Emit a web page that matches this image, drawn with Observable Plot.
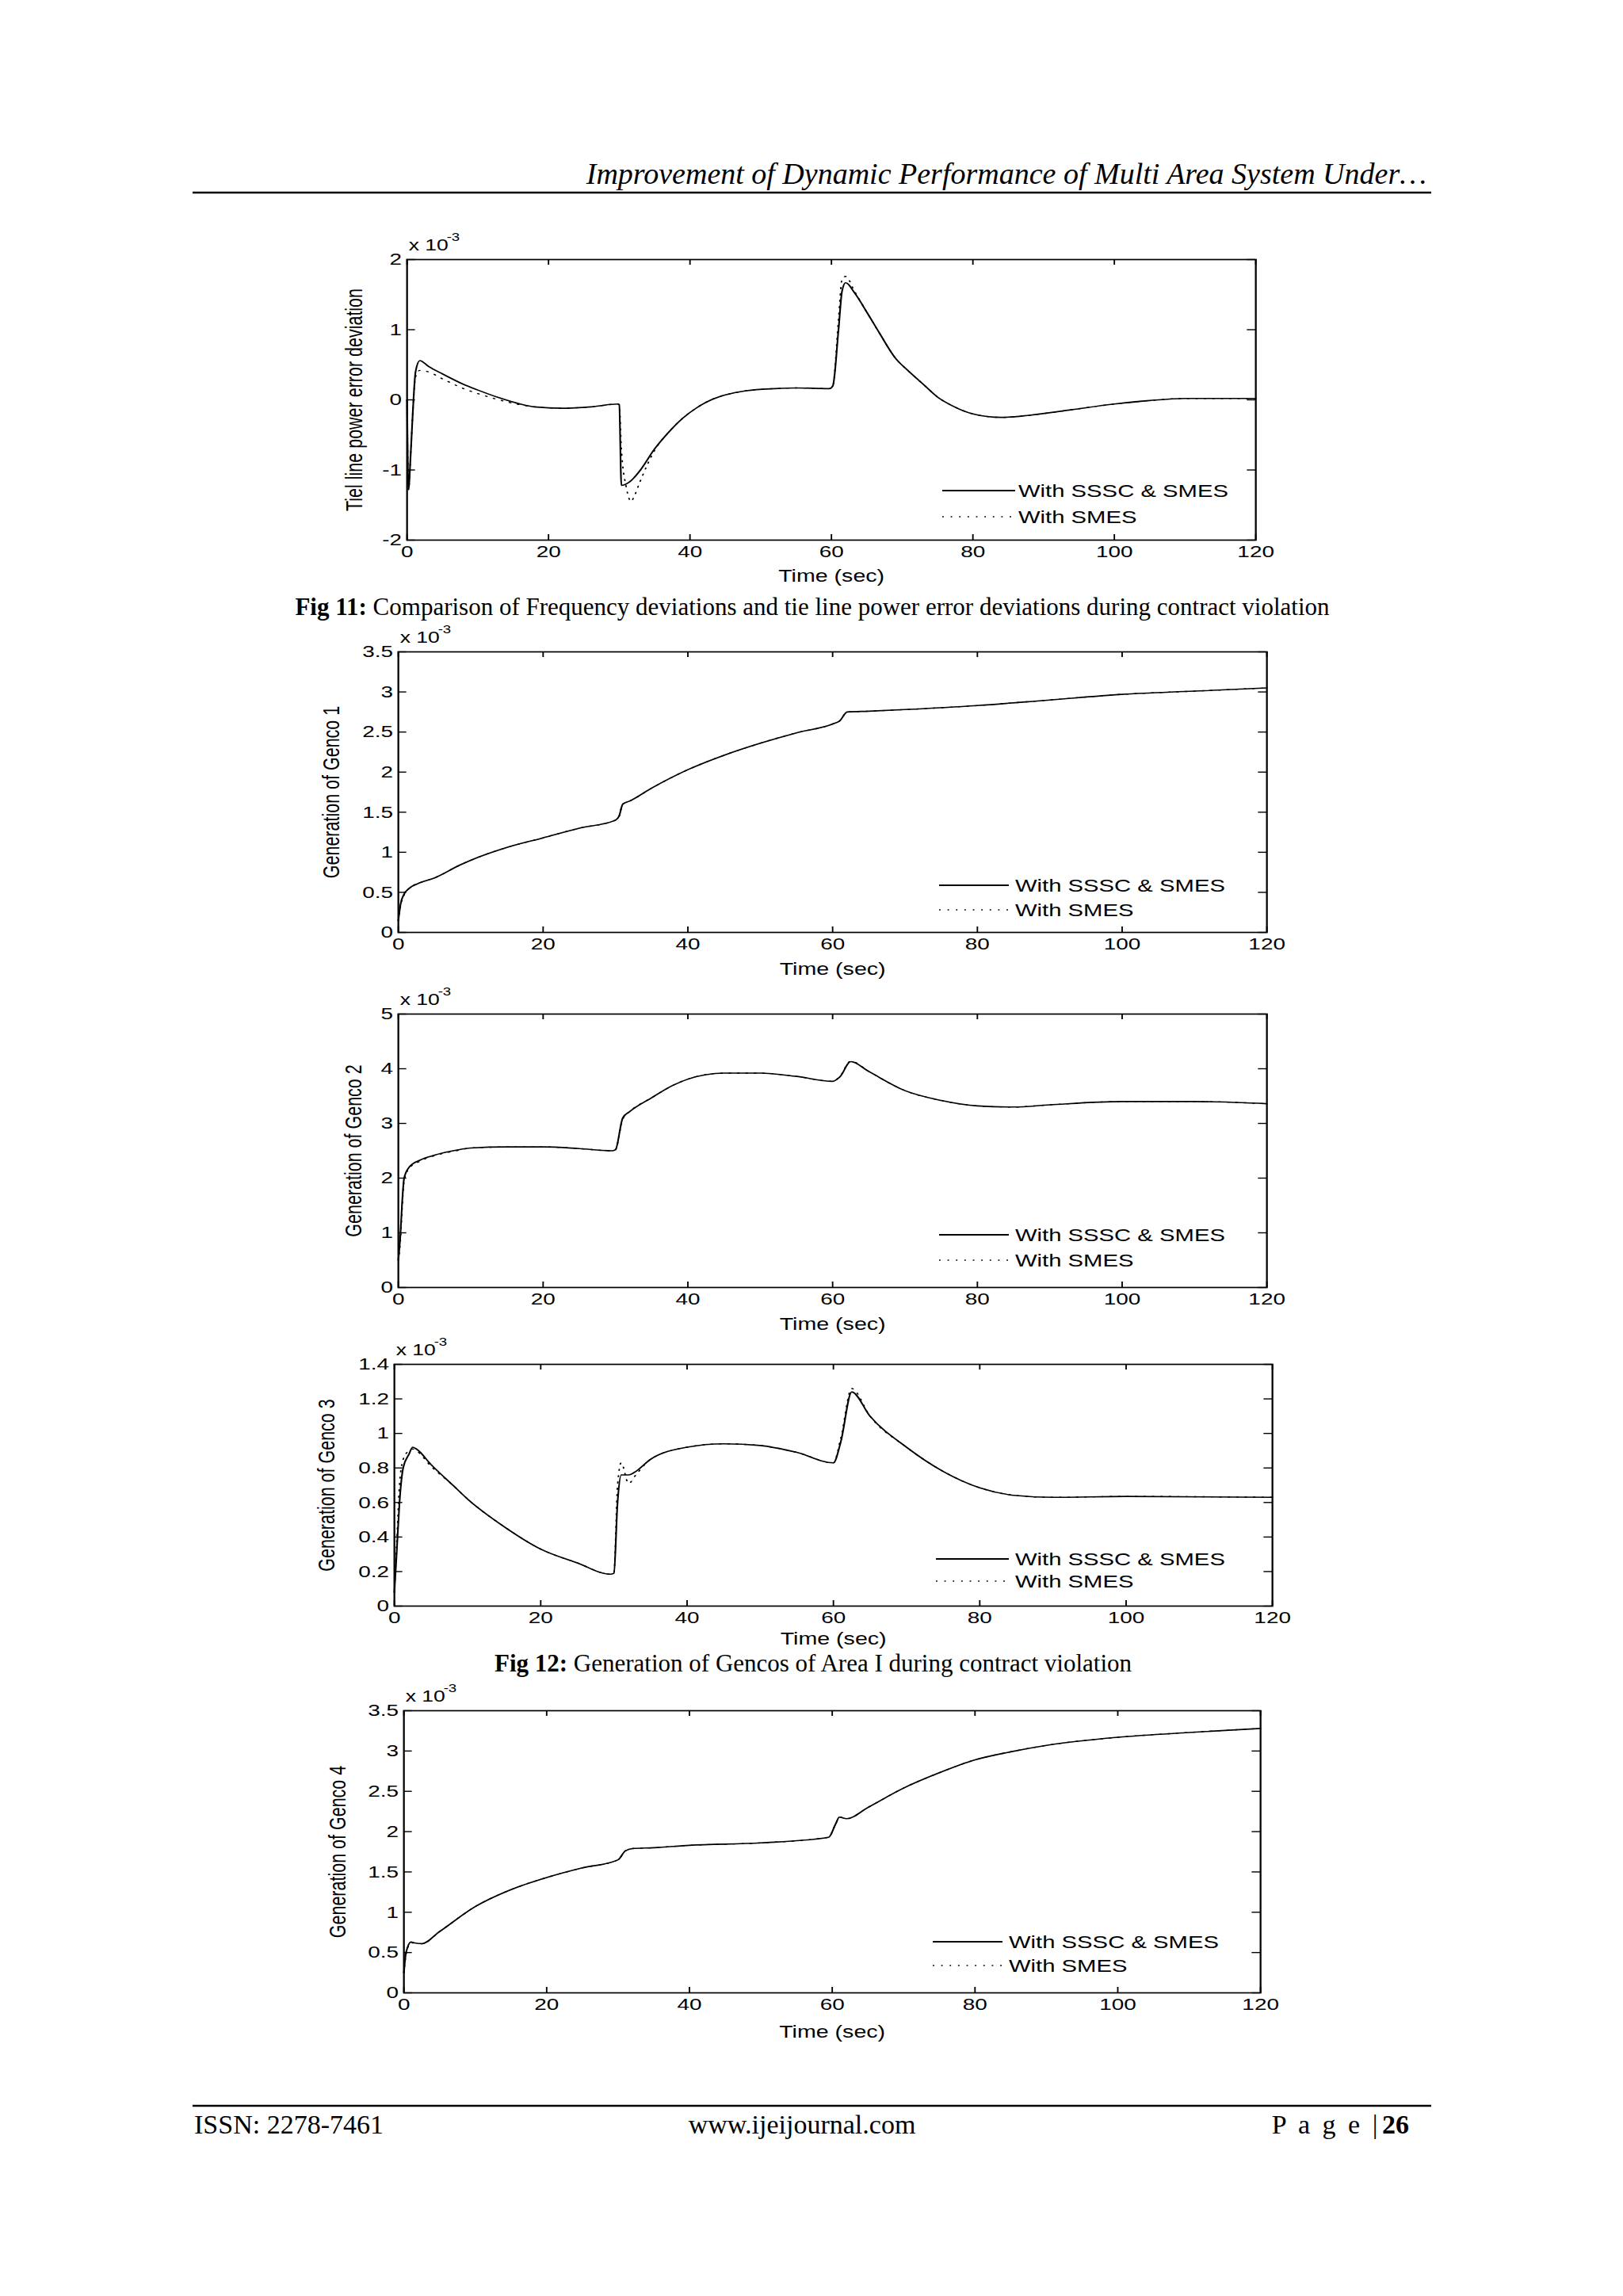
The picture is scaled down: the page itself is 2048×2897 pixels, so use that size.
<!DOCTYPE html>
<html><head><meta charset="utf-8">
<script src="https://cdn.jsdelivr.net/npm/d3@7"></script>
<script src="https://cdn.jsdelivr.net/npm/@observablehq/plot@0.6"></script>
<style>
html,body{margin:0;padding:0;background:#fff;}
#page{position:relative;width:2048px;height:2897px;background:#fff;overflow:hidden;}
.panel{position:absolute;}
#pagetext{position:absolute;left:0;top:0;}
</style></head>
<body><div id="page"></div>
<script>
// ---------------- data ----------------
const xTicks = [0, 20, 40, 60, 80, 100, 120];
const xTickLabels = ["0", "20", "40", "60", "80", "100", "120"];
const xLabel = "Time (sec)";
const expBase = "x 10";
const expPower = "-3";
const seriesNames = ["With SSSC & SMES", "With SMES"];

// Fig 11: tie line power error deviation (x 10^-3)
const tieTime = [0, 0.2, 0.5, 0.8, 1.2, 1.8, 3, 5, 8, 10, 13, 16, 18, 22, 26, 29.8, 30, 30.3, 31, 31.7, 32, 33, 35, 37, 39, 41, 43, 45, 48, 52, 55, 59.7, 60.2, 61, 61.5, 62, 63.3, 65, 66.8, 69, 71, 73, 75, 77, 80, 84, 88, 94, 100, 105, 110, 120];
const tieSSSC = [0, -1.28, -0.8, -0.2, 0.4, 0.56, 0.48, 0.37, 0.22, 0.14, 0.03, -0.06, -0.1, -0.12, -0.1, -0.06, -0.07, -1.22, -1.2, -1.15, -1.12, -1.0, -0.7, -0.46, -0.26, -0.11, 0.0, 0.07, 0.13, 0.16, 0.17, 0.16, 0.2, 1.0, 1.55, 1.67, 1.52, 1.25, 0.95, 0.6, 0.4, 0.22, 0.04, -0.08, -0.2, -0.25, -0.22, -0.14, -0.06, -0.01, 0.02, 0.02];
const tieSMES = [0, -1.28, -0.8, -0.2, 0.33, 0.42, 0.4, 0.3, 0.16, 0.09, 0.0, -0.07, -0.1, -0.12, -0.1, -0.06, -0.07, -0.7, -1.25, -1.45, -1.4, -1.15, -0.72, -0.46, -0.26, -0.11, 0.0, 0.07, 0.13, 0.16, 0.17, 0.16, 0.2, 1.15, 1.72, 1.76, 1.54, 1.25, 0.95, 0.6, 0.4, 0.22, 0.04, -0.08, -0.2, -0.25, -0.22, -0.14, -0.06, -0.01, 0.02, 0.02];
const tieYTicks = [-2, -1, 0, 1, 2];
const tieYTickLabels = ["-2", "-1", "0", "1", "2"];
const tieYLabel = "Tiel line power error deviation";

// Fig 12: Genco 1
const g1Time = [0, 0.3, 0.8, 1.5, 3, 5, 8.5, 10, 15, 20, 25, 30, 30.5, 31, 32, 35, 40, 45, 50, 55, 60, 61, 62, 65, 70, 80, 90, 100, 110, 120];
const g1SSSC = [0.15, 0.35, 0.48, 0.55, 0.62, 0.68, 0.84, 0.9, 1.06, 1.18, 1.3, 1.4, 1.45, 1.6, 1.64, 1.8, 2.03, 2.21, 2.36, 2.49, 2.6, 2.64, 2.75, 2.76, 2.78, 2.83, 2.9, 2.97, 3.01, 3.05];
const g1SMES = [0.15, 0.33, 0.47, 0.55, 0.62, 0.68, 0.84, 0.9, 1.06, 1.18, 1.3, 1.4, 1.45, 1.6, 1.64, 1.8, 2.03, 2.21, 2.36, 2.49, 2.6, 2.64, 2.75, 2.76, 2.78, 2.83, 2.9, 2.97, 3.01, 3.05];
const g1YTicks = [0, 0.5, 1, 1.5, 2, 2.5, 3, 3.5];
const g1YTickLabels = ["0", "0.5", "1", "1.5", "2", "2.5", "3", "3.5"];
const g1YLabel = "Generation of Genco 1";

// Genco 2
const g2Time = [0, 0.3, 0.5, 0.8, 1.5, 3, 5, 8, 10, 15, 20, 25, 29.5, 30, 31, 32, 35, 38, 40, 45, 50, 55, 60, 61, 62.5, 65, 70, 75, 80, 85, 90, 100, 110, 120];
const g2SSSC = [0.5, 1.0, 1.5, 2.0, 2.2, 2.33, 2.42, 2.51, 2.55, 2.57, 2.57, 2.54, 2.5, 2.52, 3.1, 3.22, 3.47, 3.7, 3.81, 3.92, 3.92, 3.86, 3.77, 3.85, 4.13, 3.95, 3.6, 3.42, 3.32, 3.3, 3.34, 3.4, 3.4, 3.36];
const g2SMES = [0.5, 0.9, 1.4, 1.95, 2.18, 2.31, 2.41, 2.5, 2.55, 2.57, 2.57, 2.54, 2.5, 2.52, 3.08, 3.22, 3.47, 3.7, 3.81, 3.92, 3.92, 3.86, 3.77, 3.86, 4.14, 3.95, 3.6, 3.42, 3.32, 3.3, 3.34, 3.4, 3.4, 3.36];
const g2YTicks = [0, 1, 2, 3, 4, 5];
const g2YTickLabels = ["0", "1", "2", "3", "4", "5"];
const g2YLabel = "Generation of Genco 2";

// Genco 3
const g3Time = [0, 0.3, 0.7, 1.2, 2, 2.5, 3, 5, 8, 10, 15, 20, 25, 29.5, 30, 30.5, 31, 32, 33, 35, 40, 45, 50, 55, 60, 61, 62.5, 65, 70, 75, 80, 85, 90, 100, 120];
const g3SSSC = [0.08, 0.3, 0.6, 0.8, 0.88, 0.92, 0.91, 0.82, 0.7, 0.62, 0.46, 0.33, 0.25, 0.185, 0.19, 0.6, 0.76, 0.76, 0.78, 0.85, 0.92, 0.94, 0.93, 0.89, 0.83, 0.95, 1.24, 1.1, 0.92, 0.78, 0.685, 0.64, 0.63, 0.635, 0.63];
const g3SMES = [0.08, 0.35, 0.7, 0.85, 0.9, 0.91, 0.9, 0.81, 0.7, 0.62, 0.46, 0.33, 0.25, 0.185, 0.19, 0.7, 0.83, 0.71, 0.76, 0.85, 0.92, 0.94, 0.93, 0.89, 0.83, 0.97, 1.26, 1.1, 0.92, 0.78, 0.685, 0.64, 0.63, 0.635, 0.63];
const g3YTicks = [0, 0.2, 0.4, 0.6, 0.8, 1, 1.2, 1.4];
const g3YTickLabels = ["0", "0.2", "0.4", "0.6", "0.8", "1", "1.2", "1.4"];
const g3YLabel = "Generation of Genco 3";

// Genco 4
const g4Time = [0, 0.3, 1, 1.5, 2.5, 5, 10, 15, 20, 25, 30, 31, 32, 35, 40, 50, 59.5, 60.5, 61, 62, 65, 70, 75, 80, 85, 90, 100, 110, 120];
const g4SSSC = [0.25, 0.5, 0.63, 0.62, 0.61, 0.76, 1.07, 1.28, 1.43, 1.55, 1.65, 1.76, 1.79, 1.8, 1.83, 1.86, 1.93, 2.1, 2.18, 2.16, 2.3, 2.54, 2.73, 2.89, 2.99, 3.07, 3.17, 3.23, 3.28];
const g4SMES = [0.25, 0.48, 0.62, 0.62, 0.61, 0.76, 1.07, 1.28, 1.43, 1.55, 1.65, 1.76, 1.79, 1.8, 1.83, 1.86, 1.93, 2.1, 2.18, 2.16, 2.3, 2.54, 2.73, 2.89, 2.99, 3.07, 3.17, 3.23, 3.28];
const g4YTicks = [0, 0.5, 1, 1.5, 2, 2.5, 3, 3.5];
const g4YTickLabels = ["0", "0.5", "1", "1.5", "2", "2.5", "3", "3.5"];
const g4YLabel = "Generation of Genco 4";

// page texts
const headerText = "Improvement of Dynamic Performance of Multi Area System Under…";
const fig11Bold = "Fig 11:";
const fig11Text = " Comparison of Frequency deviations and tie line power error deviations during contract violation";
const fig12Bold = "Fig 12:";
const fig12Text = " Generation of Gencos of Area I during contract violation";
const footerLeft = "ISSN: 2278-7461";
const footerMid = "www.ijeijournal.com";
const footerPage = "P a g e |";
const footerNum = "26";

// ---------------- layout ----------------
const S = 1.33; // horizontal stretch of the original figures
const M = {left: 100, right: 15, top: 45, bottom: 70};
const SANS = "'Liberation Sans', Arial, Helvetica, sans-serif";
const SERIF = "'Liberation Serif', 'Times New Roman', serif";

const panels = [
  {frame: [513, 327, 1584, 681], t: tieTime, a: tieSSSC, b: tieSMES, yDomain: [-2, 2], yTicks: tieYTicks, yTickLabels: tieYTickLabels, yLabel: tieYLabel, yLabelDx: -66, legendLine: [-395, -303], legendText: -299, legendRows: [-62, -29], xLabelDy: 52},
  {frame: [502, 822, 1598, 1176], t: g1Time, a: g1SSSC, b: g1SMES, yDomain: [0, 3.5], yTicks: g1YTicks, yTickLabels: g1YTickLabels, yLabel: g1YLabel, yLabelDx: -84, legendLine: [-413, -325], legendText: -317, legendRows: [-59, -28], xLabelDy: 53},
  {frame: [502, 1279, 1598, 1624], t: g2Time, a: g2SSSC, b: g2SMES, yDomain: [0, 5], yTicks: g2YTicks, yTickLabels: g2YTickLabels, yLabel: g2YLabel, yLabelDx: -56, legendLine: [-413, -325], legendText: -317, legendRows: [-66, -34], xLabelDy: 53},
  {frame: [497, 1721, 1605, 2026], t: g3Time, a: g3SSSC, b: g3SMES, yDomain: [0, 1.4], yTicks: g3YTicks, yTickLabels: g3YTickLabels, yLabel: g3YLabel, yLabelDx: -85, legendLine: [-424, -332], legendText: -324, legendRows: [-59, -31], xLabelDy: 48},
  {frame: [509, 2158, 1590, 2514], t: g4Time, a: g4SSSC, b: g4SMES, yDomain: [0, 3.5], yTicks: g4YTicks, yTickLabels: g4YTickLabels, yLabel: g4YLabel, yLabelDx: -83, legendLine: [-413, -325], legendText: -317, legendRows: [-64, -34], xLabelDy: 56}
];

const page = document.getElementById("page");

// ---------- page text layer ----------
const pt = d3.select(page).append("svg").attr("id", "pagetext")
  .attr("width", 2048).attr("height", 2897).attr("viewBox", "0 0 2048 2897");
pt.append("text").attr("x", 1800).attr("y", 232).attr("text-anchor", "end")
  .attr("font-family", SERIF).attr("font-style", "italic").attr("font-size", 38).text(headerText);
pt.append("line").attr("x1", 243).attr("x2", 1806).attr("y1", 243).attr("y2", 243).attr("stroke", "#000").attr("stroke-width", 2.5);
function caption(x, y, bold, rest) {
  const t = pt.append("text").attr("x", x).attr("y", y).attr("text-anchor", "middle")
    .attr("font-family", SERIF).attr("font-size", 31);
  t.append("tspan").attr("font-weight", "bold").text(bold);
  t.append("tspan").text(rest);
}
caption(1025, 776, fig11Bold, fig11Text);
caption(1026, 2109, fig12Bold, fig12Text);
pt.append("line").attr("x1", 243).attr("x2", 1806).attr("y1", 2657).attr("y2", 2657).attr("stroke", "#000").attr("stroke-width", 2.5);
pt.append("text").attr("x", 245).attr("y", 2692).attr("font-family", SERIF).attr("font-size", 34).text(footerLeft);
pt.append("text").attr("x", 1012).attr("y", 2692).attr("text-anchor", "middle").attr("font-family", SERIF).attr("font-size", 34).text(footerMid);
const fp = pt.append("text").attr("x", 1778).attr("y", 2692).attr("text-anchor", "end").attr("font-family", SERIF).attr("font-size", 34);
fp.append("tspan").attr("letter-spacing", "3.5").text(footerPage);
fp.append("tspan").attr("font-weight", "bold").attr("dx", 2).text(footerNum);

// ---------- charts ----------
function legendMark(cfg) {
  return (index, scales, values, dims) => {
    const g = d3.create("svg:g").attr("text-anchor", "start");
    const R = dims.width - dims.marginRight;
    const B = dims.height - dims.marginBottom;
    seriesNames.forEach((name, i) => {
      const y = B + cfg.legendRows[i];
      const ln = g.append("line")
        .attr("x1", R + cfg.legendLine[0] / S).attr("x2", R + cfg.legendLine[1] / S)
        .attr("y1", y).attr("y2", y).attr("stroke", "#000")
        .attr("stroke-width", i === 0 ? 2.2 : 1.4);
      if (i === 1) ln.attr("stroke-dasharray", "1.4,6.6");
      g.append("text").attr("x", R + cfg.legendText / S).attr("y", y + 8)
        .attr("text-anchor", "start")
        .attr("font-size", 22).attr("fill", "#000").text(name);
    });
    return g.node();
  };
}

panels.forEach(cfg => {
  const [L, T, R, B] = cfg.frame;
  const Wf = (R - L) / S;
  const Hf = B - T;
  const W = M.left + Wf + M.right;
  const H = M.top + Hf + M.bottom;
  const rowsA = cfg.t.map((t, i) => ({t, v: cfg.a[i]}));
  const rowsB = cfg.t.map((t, i) => ({t, v: cfg.b[i]}));
  const xFmt = new Map(xTicks.map((d, i) => [d, xTickLabels[i]]));
  const yFmt = new Map(cfg.yTicks.map((d, i) => [d, cfg.yTickLabels[i]]));

  const svg = Plot.plot({
    width: W, height: H,
    marginLeft: M.left, marginRight: M.right, marginTop: M.top, marginBottom: M.bottom,
    style: {fontFamily: SANS, fontSize: "20px", background: "transparent", color: "#000", overflow: "visible"},
    x: {domain: [0, 120]},
    y: {domain: cfg.yDomain},
    marks: [
      Plot.line(rowsB, {x: "t", y: "v", stroke: "#000", strokeWidth: 1.4, strokeDasharray: "1.4,6.6", curve: "monotone-x"}),
      Plot.line(rowsA, {x: "t", y: "v", stroke: "#000", strokeWidth: 1.6, curve: "monotone-x"}),
      // inside ticks on all four sides
      Plot.tickX(xTicks, {x: d => d, insetTop: Hf - 7, stroke: "#000", strokeWidth: 1.4}),
      Plot.tickX(xTicks, {x: d => d, insetBottom: Hf - 7, stroke: "#000", strokeWidth: 1.4}),
      Plot.tickY(cfg.yTicks, {y: d => d, insetRight: Wf - 8, stroke: "#000", strokeWidth: 1.4}),
      Plot.tickY(cfg.yTicks, {y: d => d, insetLeft: Wf - 8, stroke: "#000", strokeWidth: 1.4}),
      Plot.frame({stroke: "#000", strokeWidth: 1.7}),
      Plot.axisX(xTicks, {anchor: "bottom", tickSize: 0, tickPadding: 7, tickFormat: d => xFmt.get(d), label: null, fontSize: 21}),
      Plot.axisY(cfg.yTicks, {anchor: "left", tickSize: 0, tickPadding: 5, tickFormat: d => yFmt.get(d), label: null, fontSize: 21}),
      Plot.text([xLabel], {text: d => d, frameAnchor: "bottom", dy: cfg.xLabelDy, lineAnchor: "bottom", fontSize: 21.5}),
      Plot.text([cfg.yLabel], {text: d => d, frameAnchor: "left", rotate: -90, dx: cfg.yLabelDx / S, textAnchor: "middle", lineAnchor: "middle", fontSize: 21.5}),
      Plot.text([expBase], {text: d => d, frameAnchor: "top-left", dx: 1.5, dy: -12, textAnchor: "start", lineAnchor: "bottom", fontSize: 20}),
      Plot.text([expPower], {text: d => d, frameAnchor: "top-left", dx: 37.6, dy: -24, textAnchor: "start", lineAnchor: "bottom", fontSize: 14}),
      legendMark(cfg)
    ]
  });
  svg.setAttribute("preserveAspectRatio", "none");
  svg.setAttribute("width", W * S);
  svg.setAttribute("height", H);
  svg.style.width = (W * S) + "px";
  svg.style.height = H + "px";
  svg.style.maxWidth = "none";
  const div = document.createElement("div");
  div.className = "panel";
  div.style.left = (L - M.left * S) + "px";
  div.style.top = (T - M.top) + "px";
  div.appendChild(svg);
  page.appendChild(div);
});
</script>
</body></html>
